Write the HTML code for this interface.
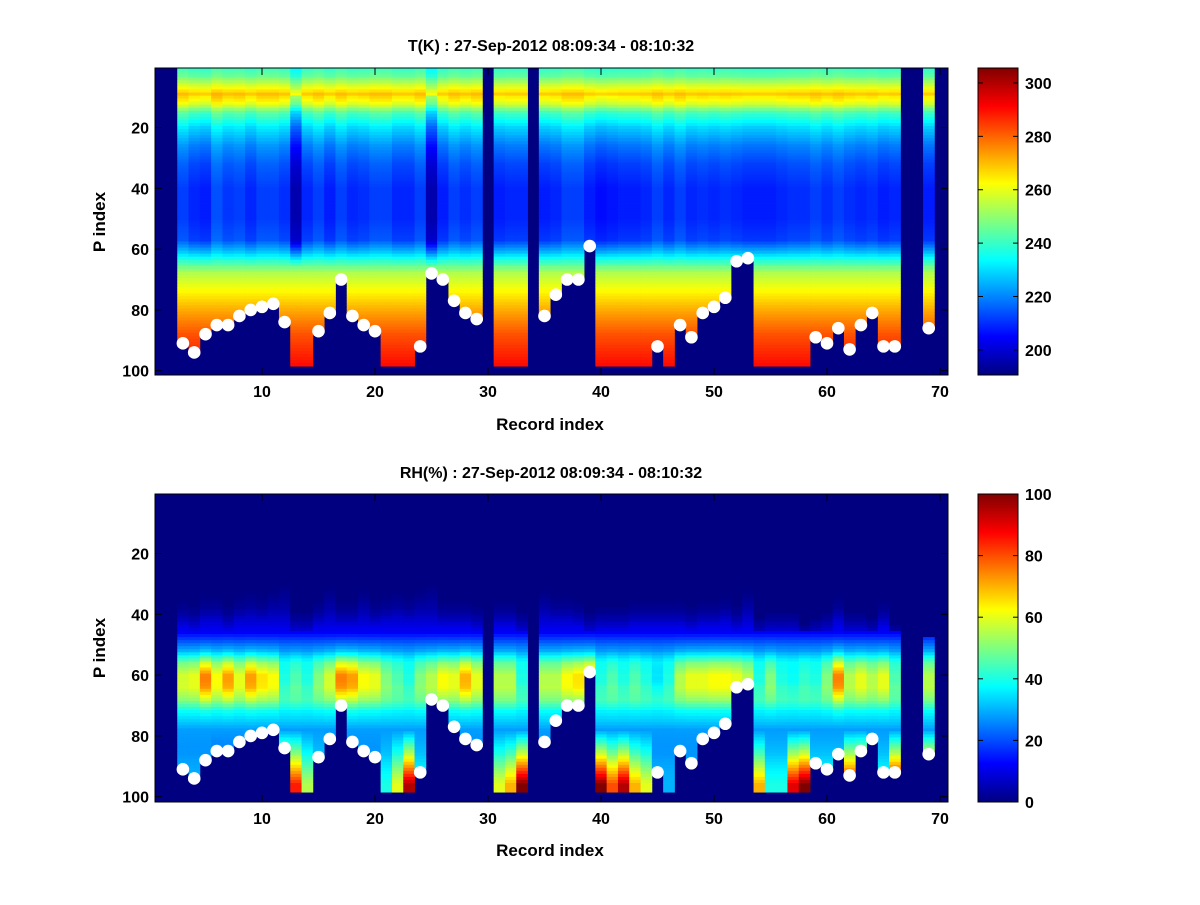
<!DOCTYPE html>
<html><head><meta charset="utf-8"><style>
body{margin:0;background:#fff;}
svg text{font-family:"Liberation Sans",sans-serif;font-weight:bold;fill:#000;}
</style></head><body>
<svg id="fig" width="1200" height="900" xmlns="http://www.w3.org/2000/svg">
<defs>
<linearGradient id="jet" x1="0" y1="1" x2="0" y2="0">
<stop offset="0" stop-color="#000080"/><stop offset="0.125" stop-color="#0000ff"/>
<stop offset="0.375" stop-color="#00ffff"/><stop offset="0.625" stop-color="#ffff00"/>
<stop offset="0.875" stop-color="#ff0000"/><stop offset="1" stop-color="#800000"/>
</linearGradient>
</defs>
<rect width="1200" height="900" fill="#fff"/>
<g id="p1"></g>
<g id="p2"></g>
<text x="551" y="51" text-anchor="middle" font-size="16">T(K) : 27-Sep-2012 08:09:34 - 08:10:32</text>
<text x="551" y="478" text-anchor="middle" font-size="16">RH(%) : 27-Sep-2012 08:09:34 - 08:10:32</text>
<text x="550" y="430" text-anchor="middle" font-size="17">Record index</text>
<text x="550" y="856" text-anchor="middle" font-size="17">Record index</text>
<text transform="translate(105,222) rotate(-90)" text-anchor="middle" font-size="17">P index</text>
<text transform="translate(105,648) rotate(-90)" text-anchor="middle" font-size="17">P index</text>
</svg>
<script>
// ---- data ----
// surface P index per record (1..70); -1 = missing record, 0 = no surface marker (profile reaches 98)
const surface=[-1,-1,91,94,88,85,85,82,80,79,78,84,0,0,87,81,70,82,85,87,0,0,0,92,68,70,77,81,83,-1,0,0,0,-1,82,75,70,70,59,0,0,0,0,0,92,0,85,89,81,79,76,64,63,0,0,0,0,0,89,91,86,93,85,81,92,92,-1,-1,86,-1];
// temperature profile keyframes
const tLevels=[1,3,6,9,12,15,20,26,32,40,50,57,61,64,68,74,80,88,98];
const tValues=[242,246,258,270,262,245,232,222,216,212,212,215,228,240,254,263,272,282,290];
// per-record cooling of upper levels
const tUpperOffset=[0,0,0,-3,-4,2,-1,0,-3,0,0,-2,-16,-3,0,-4,0,-3,-2,0,0,-3,-3,0,-16,-4,0,-2,0,0,-4,-3,-3,0,-4,-3,0,0,-4,-6,-5,-4,-4,-3,0,-3,0,-3,-2,-3,-2,-3,-4,-4,-4,-3,-2,-2,0,-2,0,-2,-3,-2,-4,-3,0,0,-4,0];
// humidity profile keyframes
const rhLevels=[1,30,38,46,52,56,60,64,68,72,78,86,98];
const rhValues=[0,0,4,12,30,50,60,60,52,38,28,25,30];
// per-record humidity modifiers
const rhOnset=[0,0,36,38,34,34,38,34,32,34,30,20,40,40,36,28,36,36,30,36,34,32,34,30,12,36,36,36,38,0,36,36,40,0,30,34,34,36,40,38,38,38,36,36,36,36,36,38,36,36,34,38,30,42,40,40,40,44,42,40,34,40,40,42,36,44,0,0,48,0];
const rhPeak=[0,0,58,60,75,62,72,60,72,65,62,40,45,40,50,58,75,72,62,60,50,45,40,50,55,62,60,70,60,0,55,55,40,0,55,55,62,65,70,40,45,40,45,40,35,40,55,60,60,62,62,60,55,40,50,40,38,42,40,50,75,55,60,55,60,45,0,0,55,0];
const rhBottom=[0,0,30,30,30,25,25,25,25,25,25,90,85,55,40,30,30,30,30,30,40,60,95,40,30,30,30,30,30,0,60,70,100,0,30,30,30,30,30,100,80,95,70,60,30,30,30,30,30,30,30,30,30,70,40,40,90,100,40,40,40,90,95,40,40,95,0,0,100,0];
const tTicks=[200,220,240,260,280,300];
const rhTicks=[0,20,40,60,80,100];
const xTicks=[10,20,30,40,50,60,70];
const yTicks=[20,40,60,80,100];

// ---- geometry ----
const AX={l:155,r:948};
const xv=v=>262+(v-10)*11.3;
const panels=[{top:68,bot:375,y20:127.5,cmin:190.6,cmax:305.6,id:'p1',name:'temperature'},{top:494,bot:802,y20:553.5,cmin:0,cmax:100,id:'p2',name:'humidity'}];
const DY=3.04;
function yv(P,v){return P.y20+(v-20)*DY;}
function interp(L,V,p){if(p<=L[0])return V[0];for(let i=1;i<L.length;i++){if(p<=L[i]){const f=(p-L[i-1])/(L[i]-L[i-1]);return V[i-1]+f*(V[i]-V[i-1]);}}return V[V.length-1];}
function jet(t){t=Math.max(0,Math.min(1,t));const r=Math.max(0,Math.min(1,Math.min(4*t-1.5,-4*t+4.5)));const g=Math.max(0,Math.min(1,Math.min(4*t-0.5,-4*t+3.5)));const b=Math.max(0,Math.min(1,Math.min(4*t+0.5,-4*t+2.5)));return `rgb(${Math.round(r*255)},${Math.round(g*255)},${Math.round(b*255)})`;}
const NS='http://www.w3.org/2000/svg';
function mk(tag,at,parent){const e=document.createElementNS(NS,tag);for(const k in at)e.setAttribute(k,at[k]);parent.appendChild(e);return e;}

function tVal(c,p){const s=surface[c-1];if(s<0)return null;const lim=s===0?98:s;if(p>lim)return null;
 let v=interp(tLevels,tValues,p);const w=p<58?1:Math.max(0,1-(p-58)/8);v+=tUpperOffset[c-1]*w*(p<10?0.5:1);return v;}
function rhVal(c,p){const s=surface[c-1];if(s<0)return null;const lim=s===0?98:s;if(p>lim)return null;
 const on=rhOnset[c-1];if(p<on)return 0;
 let v=interp(rhLevels,rhValues,p);
 const w=Math.exp(-Math.pow((p-61)/8,2));
 v=v*(1-w)+v*w*rhPeak[c-1]/60;
 if(p>78){const f=Math.min(1,(p-78)/18);v=v*(1-f)+rhBottom[c-1]*f;}
 if(p<46){v=v*Math.min(1,(p-on)/10+0.2);}
 return v;}

panels.forEach((P,pi)=>{
 const g=document.getElementById(P.id);
 mk('rect',{x:AX.l,y:P.top,width:AX.r-AX.l,height:P.bot-P.top,fill:'#000080'},g);
 const cells=mk('g',{},g);
 
 
 for(let c=1;c<=70;c++){for(let p=1;p<=101;p++){
  const v=pi===0?tVal(c,p):rhVal(c,p);if(v===null)continue;
  const x0=Math.max(AX.l,xv(c-0.5)),y0=Math.max(P.top,yv(P,p-0.5));
  const r=mk('rect',{x:x0.toFixed(2),y:y0.toFixed(2),width:(xv(c+0.5)-x0+0.4).toFixed(2),height:(yv(P,p+0.5)-y0+0.4).toFixed(2),fill:jet((v-P.cmin)/(P.cmax-P.cmin))},cells);
  
  
 }}
 for(let c=1;c<=70;c++){const s=surface[c-1];if(s>0){
  const d=mk('circle',{cx:xv(c),cy:yv(P,s),r:6.3,fill:'#fff'},g);
  
  }}
 mk('rect',{x:AX.l,y:P.top,width:AX.r-AX.l,height:P.bot-P.top,fill:'none',stroke:'#000','stroke-width':1},g);
 xTicks.forEach(t=>{const x=xv(t);
  mk('line',{x1:x,x2:x,y1:P.bot,y2:P.bot-7,stroke:'#000'},g);mk('line',{x1:x,x2:x,y1:P.top,y2:P.top+7,stroke:'#000'},g);
  const tx=mk('text',{x:x,y:P.bot+22,'text-anchor':'middle','font-size':16},g);tx.textContent=t;
  
  });
 yTicks.forEach(t=>{const y=yv(P,t);
  mk('line',{x1:AX.l,x2:AX.l+7,y1:y,y2:y,stroke:'#000'},g);mk('line',{x1:AX.r,x2:AX.r-7,y1:y,y2:y,stroke:'#000'},g);
  const tx=mk('text',{x:AX.l-6,y:y+6,'text-anchor':'end','font-size':16},g);tx.textContent=t;
  
  });
 const cb=mk('rect',{x:978,y:P.top,width:40,height:P.bot-P.top,fill:'url(#jet)',stroke:'#000'},g);
 
 
 const ticks=pi===0?tTicks:rhTicks;
 ticks.forEach(t=>{const y=P.bot-(t-P.cmin)/(P.cmax-P.cmin)*(P.bot-P.top);
  mk('line',{x1:978,x2:983,y1:y,y2:y,stroke:'#000'},g);mk('line',{x1:1018,x2:1013,y1:y,y2:y,stroke:'#000'},g);
  const tx=mk('text',{x:1025,y:y+6,'font-size':16},g);tx.textContent=t;
  
  });
});
</script>
</body></html>
